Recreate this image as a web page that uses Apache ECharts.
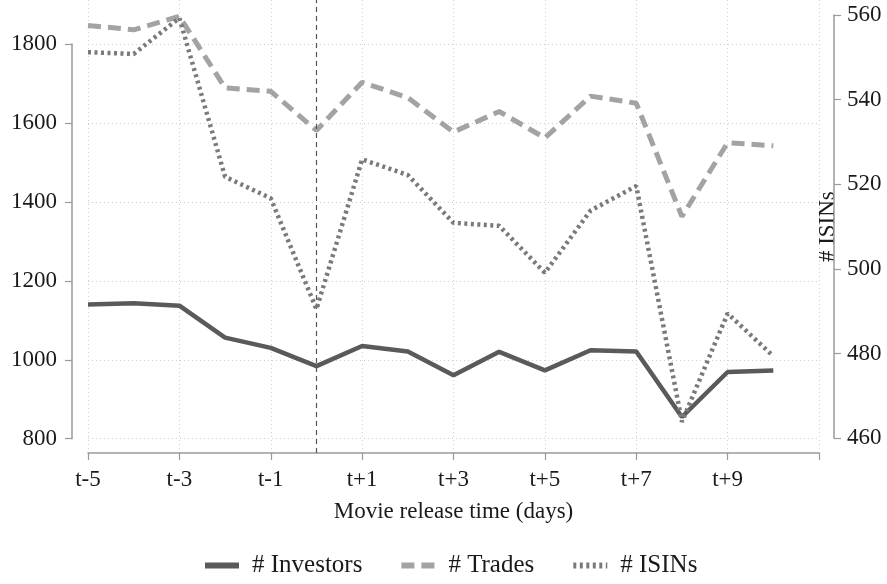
<!DOCTYPE html>
<html>
<head>
<meta charset="utf-8">
<script src="https://cdn.jsdelivr.net/npm/echarts@6/dist/echarts.min.js"></script>
<style>
html,body{margin:0;padding:0;background:#fff;}
#chart{width:887px;height:584px;}
</style>
</head>
<body>
<div id="chart"></div>
<script>
const categories = ['t-5','t-4','t-3','t-2','t-1','t0','t+1','t+2','t+3','t+4','t+5','t+6','t+7','t+8','t+9','t+10','t+11'];
const investors = [1140, 1143, 1137, 1056, 1030, 984, 1035, 1021, 961, 1020, 973, 1024, 1021, 855, 969, 973];
const trades = [1847, 1836, 1870, 1689, 1680, 1581, 1703, 1664, 1577, 1629, 1562, 1668, 1650, 1363, 1550, 1542];
const isins = [551.2, 550.8, 559.3, 521.8, 516.7, 490.5, 525.9, 522.2, 510.9, 510.2, 499.1, 513.8, 519.6, 463.9, 489.5, 479.4];
const leftTicks = [800, 1000, 1200, 1400, 1600, 1800];
const rightTicks = [460, 480, 500, 520, 540, 560];
const releaseDay = 't0';

const FONT = '"Liberation Serif", "DejaVu Serif", serif';
const FS = 23;
const AXIS_COLOR = '#9a9a9a';
const TEXT_COLOR = '#1a1a1a';

const chart = echarts.init(document.getElementById('chart'), null, {renderer: 'canvas'});

const every2 = (idx) => idx % 2 === 0;

const hiddenX = (gi) => ({
  type: 'category', gridIndex: gi, data: categories, boundaryGap: false,
  show: false
});

const option = {
  backgroundColor: '#ffffff',
  animation: false,
  textStyle: {fontFamily: FONT},
  grid: [
    {left: 88, right: 68, top: 44, height: 394.7, containLabel: false},
    {left: 88, right: 68, top: 15, height: 423.3, containLabel: false},
    {left: 88, right: 68, top: 0, height: 453, containLabel: false}
  ],
  xAxis: [
    hiddenX(0),
    hiddenX(1),
    {
      type: 'category', gridIndex: 2, data: categories, boundaryGap: false,
      name: 'Movie release time (days)', nameLocation: 'middle', nameGap: 47,
      nameMoveOverlap: false,
      nameTextStyle: {fontFamily: FONT, fontSize: FS, color: TEXT_COLOR},
      axisLine: {show: true, lineStyle: {color: AXIS_COLOR, width: 1.5}},
      axisTick: {show: true, interval: every2, length: 7, lineStyle: {color: AXIS_COLOR, width: 1.2}},
      axisLabel: {
        show: true, margin: 15, fontFamily: FONT, fontSize: FS, color: TEXT_COLOR,
        interval: (idx) => idx % 2 === 0 && idx < 16
      },
      splitLine: {show: true, interval: every2, lineStyle: {color: '#cfcfcf', type: [1, 3], width: 1}}
    }
  ],
  yAxis: [
    {
      type: 'value', gridIndex: 0, position: 'left', offset: 16,
      min: leftTicks[0], max: leftTicks[leftTicks.length - 1], interval: 200,
      axisLine: {show: true, lineStyle: {color: AXIS_COLOR, width: 1.5}},
      axisTick: {show: true, length: 7, lineStyle: {color: AXIS_COLOR, width: 1.2}},
      axisLabel: {fontFamily: FONT, fontSize: FS, color: TEXT_COLOR, margin: 15, formatter: (v) => String(v)},
      splitLine: {show: true, lineStyle: {color: '#cfcfcf', type: [1, 3], width: 1}}
    },
    {
      type: 'value', gridIndex: 1, position: 'right', offset: 15,
      min: rightTicks[0], max: rightTicks[rightTicks.length - 1], interval: 20,
      name: '# ISINs', nameLocation: 'middle', nameGap: -18, nameRotate: 90,
      nameMoveOverlap: false,
      nameTextStyle: {fontFamily: FONT, fontSize: FS, color: TEXT_COLOR},
      axisLine: {show: true, lineStyle: {color: AXIS_COLOR, width: 1.5}},
      axisTick: {show: true, length: 7, lineStyle: {color: AXIS_COLOR, width: 1.2}},
      axisLabel: {fontFamily: FONT, fontSize: FS, color: TEXT_COLOR, margin: 13, formatter: (v) => String(v)},
      splitLine: {show: false}
    },
    {
      type: 'value', gridIndex: 2, show: false, min: 0, max: 1,
      splitLine: {show: false}
    }
  ],
  legend: {
    data: ['# Investors', '# Trades', '# ISINs'],
    bottom: 6, left: 202, padding: 0,
    itemWidth: 34, itemHeight: 14, itemGap: 36,
    itemStyle: {opacity: 0},
    lineStyle: {width: 6},
    textStyle: {fontFamily: FONT, fontSize: 25, color: TEXT_COLOR, padding: [0, 0, 0, 8]}
  },
  series: [
    {
      name: '# Investors', type: 'line', xAxisIndex: 0, yAxisIndex: 0,
      data: investors, symbol: 'none', clip: false, z: 3,
      lineStyle: {color: '#5a5a5a', width: 4.5, type: 'solid'},
      itemStyle: {color: '#5a5a5a'}
    },
    {
      name: '# Trades', type: 'line', xAxisIndex: 0, yAxisIndex: 0,
      data: trades, symbol: 'none', clip: false, z: 4,
      lineStyle: {color: '#a3a3a3', width: 5, type: [13, 7]},
      itemStyle: {color: '#a3a3a3'}
    },
    {
      name: '# ISINs', type: 'line', xAxisIndex: 1, yAxisIndex: 1,
      data: isins, symbol: 'none', clip: false, z: 5,
      lineStyle: {color: '#7a7a7a', width: 4.5, type: [3, 3.5]},
      itemStyle: {color: '#7a7a7a'}
    },
    {
      name: 'release', type: 'line', xAxisIndex: 2, yAxisIndex: 2,
      data: [], symbol: 'none', silent: true, z: 2,
      markLine: {
        silent: true, symbol: 'none', label: {show: false},
        lineStyle: {color: '#555555', width: 1.2, type: [5, 4]},
        data: [{xAxis: releaseDay}]
      }
    }
  ]
};

chart.setOption(option);
</script>
</body>
</html>
